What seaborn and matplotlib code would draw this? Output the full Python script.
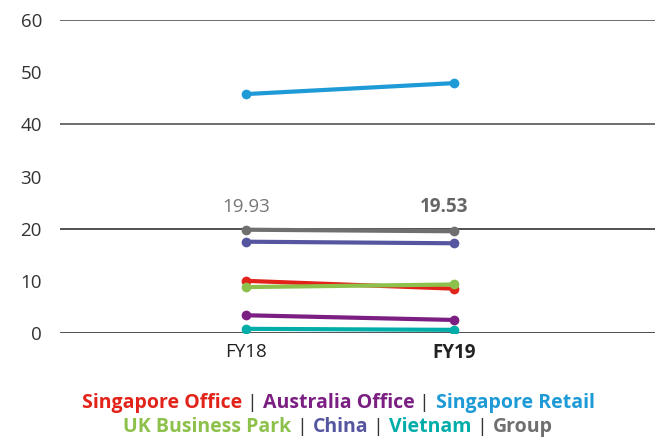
import matplotlib
matplotlib.use("Agg")
import matplotlib.pyplot as plt
import seaborn as sns
import pandas as pd

years = ["FY18", "FY19"]
series_names = ["Singapore Office", "Australia Office", "Singapore Retail",
                "UK Business Park", "China", "Vietnam", "Group"]
singapore_office = [10.0, 8.5]
australia_office = [3.4, 2.5]
singapore_retail = [45.8, 47.9]
uk_business_park = [8.8, 9.3]
china = [17.5, 17.2]
vietnam = [0.8, 0.6]
group = [19.8, 19.5]
colors = ["#E2231A", "#7B1F82", "#1E9AD6", "#8DC14C", "#5656A0", "#00ADA8", "#6F6F6F"]
group_labels = ["19.93", "19.53"]

values = [singapore_office, australia_office, singapore_retail,
          uk_business_park, china, vietnam, group]
rows = []
for name, vals in zip(series_names, values):
    for i, (y, v) in enumerate(zip(years, vals)):
        rows.append({"Year": i, "Segment": name, "Value": v})
df = pd.DataFrame(rows)

sns.set_style("white")
plt.rcParams["font.family"] = ["Open Sans", "DejaVu Sans"]

fig = plt.figure(figsize=(6.62, 4.37), dpi=100)
ax = fig.add_axes([60/662, 1-333/437, (655-60)/662, (333-20)/437])

sns.lineplot(data=df, x="Year", y="Value", hue="Segment", hue_order=series_names,
             palette=dict(zip(series_names, colors)), marker="o", markersize=7,
             markeredgewidth=0, linewidth=3, ax=ax, legend=False)

ax.set_ylim(0, 60)
ax.set_xlim(-0.894, 1.966)
ax.set_yticks(range(0, 61, 10))
ax.set_xticks([0, 1])
ax.set_xticklabels(years)
ax.set_xlabel("")
ax.set_ylabel("")
for v in [0, 20, 40, 60]:
    ax.axhline(v, color="#333333" if v in (0, 20) else "#555555", lw=1.2, zorder=0)
for s in ax.spines.values():
    s.set_visible(False)
ax.tick_params(axis="both", length=0, labelsize=13.5, colors="#333333")
ax.tick_params(axis="x", pad=7)
ax.tick_params(axis="y", pad=13)
for lbl in ax.get_yticklabels():
    lbl.set_color("#333333")
xl = ax.get_xticklabels()
xl[1].set_fontweight("bold")
for lbl in xl:
    lbl.set_color("#222222")

ax.text(0, 24.2, group_labels[0], ha="center", va="center", fontsize=13.5, color="#777777")
ax.text(1 - 0.05, 24.2, group_labels[1], ha="center", va="center", fontsize=13.5,
        color="#666666", fontweight="bold")

# colored legend text
fig.canvas.draw()
renderer = fig.canvas.get_renderer()
lines = [[0, 1, 2], [3, 4, 5, 6]]
ys = [1-403/437, 1-427/437]
fs = 14
for idxs, yy in zip(lines, ys):
    pieces = []
    for k, i in enumerate(idxs):
        if k > 0:
            pieces.append((" | ", "#333333", "normal"))
        pieces.append((series_names[i], colors[i], "bold"))
    texts = []
    total = 0
    for s, c, w in pieces:
        t = fig.text(0, yy, s, color=c, fontweight=w, fontsize=fs, va="center", ha="left")
        bb = t.get_window_extent(renderer=renderer)
        texts.append((t, bb.width))
        total += bb.width
    x = 338 - total / 2
    for t, w in texts:
        t.set_x(x / 662)
        x += w

fig.savefig("out.png", dpi=100)
